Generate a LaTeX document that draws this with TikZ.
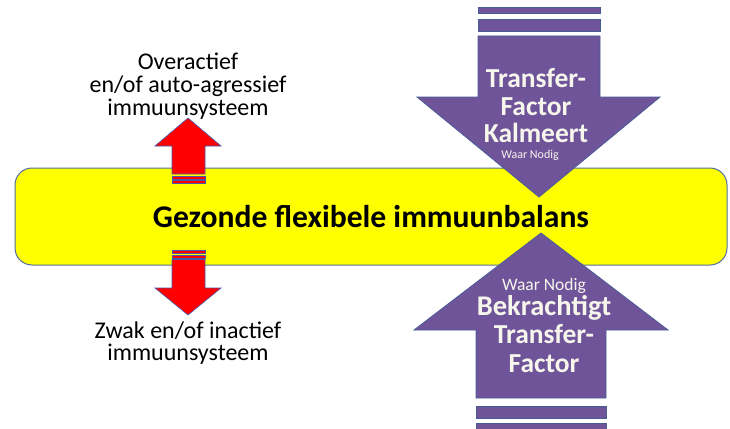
\documentclass[tikz,border=0pt]{standalone}
\usepackage{fontspec}
\setmainfont{Carlito}
\definecolor{ybox}{RGB}{255,255,0}
\definecolor{yedge}{RGB}{84,112,160}
\definecolor{purp}{RGB}{112,84,154}
\definecolor{pedge}{RGB}{72,92,150}
\definecolor{redf}{RGB}{255,0,0}
\definecolor{redge}{RGB}{70,90,170}
\definecolor{cream}{RGB}{246,246,236}
\tikzset{
  pshape/.style={fill=purp,draw=pedge,line width=0.8pt,line join=miter},
  rshape/.style={fill=redf,draw=redge,line width=0.6pt,line join=miter},
  lbl/.style={anchor=base,inner sep=0pt,font=\fontsize{24}{26}\selectfont,text=black},
  bigw/.style={anchor=base,inner sep=0pt,font=\fontsize{27.5}{30}\selectfont\bfseries,text=cream},
  smallw/.style={anchor=base,inner sep=0pt,text=cream},
  balbox/.style={draw=yedge,fill=ybox,line width=1pt,rounded corners=17pt,
    font=\fontsize{31.6}{34}\selectfont\bfseries,text=black}
}
\begin{document}
\begin{tikzpicture}[x=1pt,y=-1pt]
\useasboundingbox[fill=white] (0,0) rectangle (730,428);
% yellow balance box
\node[balbox,minimum width=712pt,minimum height=97pt] (bal) at (371,216.5) {Gezonde flexibele immuunbalans};
% purple down arrow
\draw[pshape] (478,7) rectangle (600,13);
\draw[pshape] (478,19) rectangle (600,31);
\draw[pshape] (478,36) -- (600,36) -- (600,97) -- (660,97) -- (539,197) -- (417,97) -- (478,97) -- cycle;
% purple up arrow
\draw[pshape] (476,406) rectangle (606,418);
\draw[pshape] (476,423) rectangle (606,440);
\draw[pshape] (476,398) -- (476,330) -- (414,330) -- (541,233) -- (668,330) -- (606,330) -- (606,398) -- cycle;
% red up arrow
\draw[rshape] (172,176) rectangle (205,179);
\draw[rshape] (172,180.5) rectangle (205,183.5);
\draw[rshape] (172,174) -- (172,146) -- (155,146) -- (188,118) -- (221,146) -- (205,146) -- (205,174) -- cycle;
% red down arrow
\draw[rshape] (172,250.5) rectangle (205,253.5);
\draw[rshape] (172,255) rectangle (205,258);
\draw[rshape] (172,259.5) -- (205,259.5) -- (205,288) -- (221,288) -- (188,315) -- (155,288) -- (172,288) -- cycle;
% labels left
\node[lbl] (ov1) at (188,69) {Overactief};
\node[lbl] (ov2) at (188,92) {en/of auto-agressief};
\node[lbl] (ov3) at (188,115) {immuunsysteem};
\node[lbl] (zw1) at (188,338) {Zwak en/of inactief};
\node[lbl] (zw2) at (188,360) {immuunsysteem};
% purple down texts
\node[bigw] (d1) at (536,87) {Transfer-};
\node[bigw] (d2) at (536,115) {Factor};
\node[bigw] (d3) at (536,142) {Kalmeert};
\node[smallw,font=\fontsize{12}{14}\selectfont] (d4) at (530,158) {Waar Nodig};
% purple up texts
\node[smallw,font=\fontsize{17.5}{20}\selectfont] (u1) at (544,290) {Waar Nodig};
\node[bigw,font=\fontsize{28.5}{30}\selectfont\bfseries] (u2) at (544,315) {Bekrachtigt};
\node[bigw] (u3) at (544,343) {Transfer-};
\node[bigw] (u4) at (544,372) {Factor};
\end{tikzpicture}
\end{document}
